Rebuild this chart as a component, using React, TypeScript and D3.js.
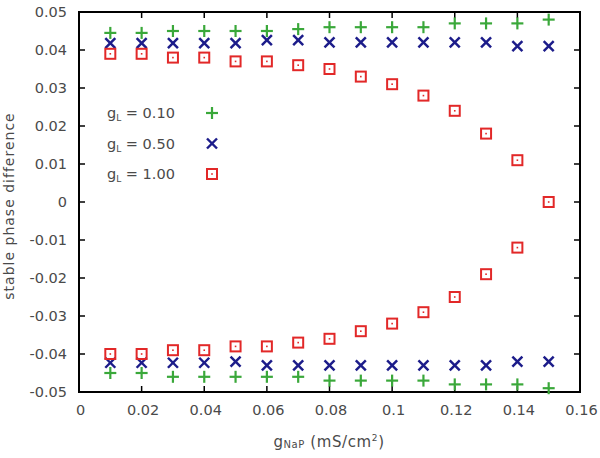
import React from "react";
import * as d3 from "d3";

const xValues = [0.01, 0.02, 0.03, 0.04, 0.05, 0.06, 0.07, 0.08, 0.09, 0.1, 0.11, 0.12, 0.13, 0.14, 0.15];
const greenUpper = [0.0445, 0.0445, 0.045, 0.045, 0.045, 0.045, 0.0455, 0.046, 0.046, 0.046, 0.046, 0.047, 0.047, 0.047, 0.048];
const greenLower = [-0.045, -0.045, -0.046, -0.046, -0.046, -0.046, -0.046, -0.047, -0.047, -0.047, -0.047, -0.048, -0.048, -0.048, -0.049];
const blueUpper = [0.0418, 0.0418, 0.0418, 0.0418, 0.0418, 0.0426, 0.0426, 0.042, 0.042, 0.042, 0.042, 0.042, 0.042, 0.041, 0.041];
const blueLower = [-0.0423, -0.0423, -0.0423, -0.0423, -0.042, -0.043, -0.043, -0.043, -0.043, -0.043, -0.043, -0.043, -0.043, -0.042, -0.042];
const redUpper = [0.039, 0.039, 0.038, 0.038, 0.037, 0.037, 0.036, 0.035, 0.033, 0.031, 0.028, 0.024, 0.018, 0.011, 0.0];
const redLower = [-0.04, -0.04, -0.039, -0.039, -0.038, -0.038, -0.037, -0.036, -0.034, -0.032, -0.029, -0.025, -0.019, -0.012];
const xTicks = [0, 0.02, 0.04, 0.06, 0.08, 0.1, 0.12, 0.14, 0.16];
const yTicks = [0.05, 0.04, 0.03, 0.02, 0.01, 0, -0.01, -0.02, -0.03, -0.04, -0.05];
const legendLabels = ["0.10", "0.50", "1.00"];

const GREEN = "#3aa83a";
const BLUE = "#1c1c8a";
const RED = "#e22828";
const TICKFONT = "'DejaVu Sans', sans-serif";
const TEXT = "#4a4a4a";

function Plus({ x, y }: { x: number; y: number }) {
  const s = 6;
  return (
    <g stroke={GREEN} strokeWidth={2.2}>
      <line x1={x - s} x2={x + s} y1={y} y2={y} />
      <line x1={x} x2={x} y1={y - s} y2={y + s} />
    </g>
  );
}
function Cross({ x, y }: { x: number; y: number }) {
  const s = 5;
  return (
    <g stroke={BLUE} strokeWidth={2.4}>
      <line x1={x - s} x2={x + s} y1={y - s} y2={y + s} />
      <line x1={x - s} x2={x + s} y1={y + s} y2={y - s} />
    </g>
  );
}
function Square({ x, y }: { x: number; y: number }) {
  const s = 5;
  return (
    <g>
      <rect x={x - s} y={y - s} width={2 * s} height={2 * s} fill="none" stroke={RED} strokeWidth={2} />
      <rect x={x - 0.8} y={y - 0.8} width={1.6} height={1.6} fill={RED} />
    </g>
  );
}

export default function App() {
  const left = 79, right = 580, top = 12, bottom = 392;
  const x = d3.scaleLinear().domain([0, 0.16]).range([left, right]);
  const y = d3.scaleLinear().domain([-0.05, 0.05]).range([bottom, top]);
  const tick = 6;
  const fmt = (v: number) => (v === 0 ? "0" : String(+v.toFixed(2)));

  return (
    <svg width={600} height={458} style={{ position: "absolute", left: 0, top: 0, background: "#fff" }}>
      {/* ticks */}
      {xTicks.map((t, i) => (
        <g key={"xt" + i}>
          <line x1={x(t)} x2={x(t)} y1={bottom} y2={bottom - tick} stroke="#000" strokeWidth={1.5} />
          <line x1={x(t)} x2={x(t)} y1={top} y2={top + tick} stroke="#000" strokeWidth={1.5} />
          <text x={x(t) + 1.5} y={415} textAnchor="middle" fontFamily={TICKFONT} fontSize={14.5} fill={TEXT}>
            {fmt(t)}
          </text>
        </g>
      ))}
      {yTicks.map((t, i) => (
        <g key={"yt" + i}>
          <line x1={left} x2={left + tick} y1={y(t)} y2={y(t)} stroke="#000" strokeWidth={1.5} />
          <line x1={right} x2={right - tick} y1={y(t)} y2={y(t)} stroke="#000" strokeWidth={1.5} />
          <text x={67} y={y(t) + 5} textAnchor="end" fontFamily={TICKFONT} fontSize={14.5} fill={TEXT}>
            {fmt(t)}
          </text>
        </g>
      ))}
      <rect x={left} y={top} width={right - left} height={bottom - top} fill="none" stroke="#000" strokeWidth={2} />

      {/* data */}
      {xValues.map((v, i) => <Plus key={"gu" + i} x={x(v)} y={y(greenUpper[i])} />)}
      {xValues.map((v, i) => <Plus key={"gl" + i} x={x(v)} y={y(greenLower[i])} />)}
      {xValues.map((v, i) => <Cross key={"bu" + i} x={x(v)} y={y(blueUpper[i])} />)}
      {xValues.map((v, i) => <Cross key={"bl" + i} x={x(v)} y={y(blueLower[i])} />)}
      {xValues.map((v, i) => <Square key={"ru" + i} x={x(v)} y={y(redUpper[i])} />)}
      {redLower.map((v, i) => <Square key={"rl" + i} x={x(xValues[i])} y={y(v)} />)}

      {/* legend */}
      {legendLabels.map((l, i) => {
        const ly = 113 + i * 30.5;
        return (
          <g key={"lg" + i}>
            <text x={107} y={ly + 5} fontFamily={TICKFONT} fontSize={14.5} fill={TEXT}>
              g<tspan fontSize={9} dy={3}>L</tspan>
              <tspan dy={-3}> = {l}</tspan>
            </text>
            {i === 0 && <Plus x={212} y={ly} />}
            {i === 1 && <Cross x={212} y={ly} />}
            {i === 2 && <Square x={212} y={ly} />}
          </g>
        );
      })}

      {/* axis titles */}
      <text
        transform={`translate(14, 206) rotate(-90)`}
        textAnchor="middle"
        fontFamily={TICKFONT}
        fontSize={14}
        letterSpacing={1}
        fill={TEXT}
      >
        stable phase difference
      </text>
      <text x={329} y={447} textAnchor="middle" fontFamily={TICKFONT} fontSize={15} letterSpacing={0.6} fill={TEXT}>
        g<tspan fontSize={10} dy={1}>NaP</tspan>
        <tspan dy={-1}> (mS/cm</tspan>
        <tspan fontSize={9} dy={-6}>2</tspan>
        <tspan dy={6}>)</tspan>
      </text>
    </svg>
  );
}
